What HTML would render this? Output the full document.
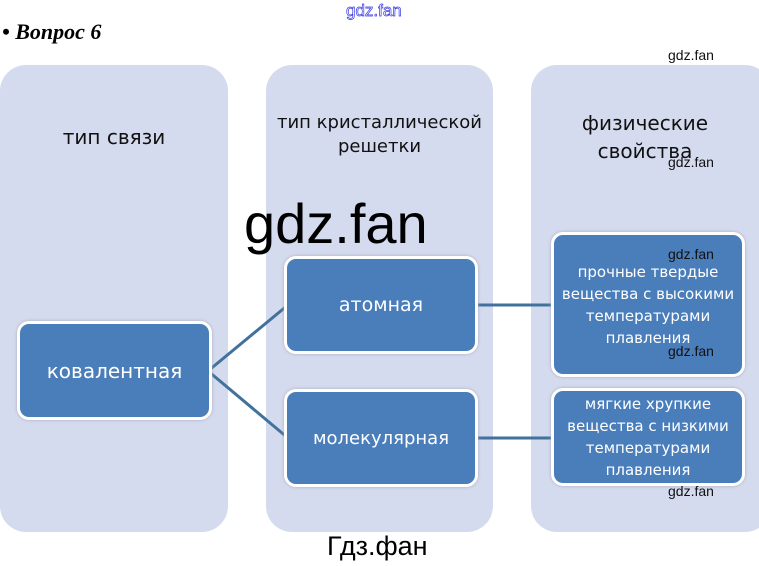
<!DOCTYPE html>
<html><head><meta charset="utf-8"><style>
body{margin:0;width:759px;height:566px;background:#fff;position:relative;overflow:hidden;font-family:"Liberation Sans","DejaVu Sans",sans-serif}
.a{position:absolute}
.col{position:absolute;top:65px;height:467px;background:#d5dbee;border-radius:26px}
.hd{position:absolute;width:100%;text-align:center;color:#111;font-family:"DejaVu Sans",sans-serif}
.box{position:absolute;background:#4a7ebb;border:3px solid #fff;border-radius:12px;box-shadow:0 0 3px #aab;color:#fff;display:flex;align-items:center;justify-content:center;text-align:center;font-family:"DejaVu Sans",sans-serif;box-sizing:border-box}
.wm{position:absolute;font-size:14px;color:#111}
</style></head><body>
<div class="a" style="left:2px;top:19px;font:italic bold 22px 'Liberation Serif',serif">• Вопрос 6</div>
<div class="a" style="left:346px;top:1px;font-size:17px;color:#fff;-webkit-text-stroke:0.7px #3a3ae0">gdz.fan</div>
<div class="col" style="left:0;width:228px"><div class="hd" style="top:60px;font-size:20px">тип связи</div></div>
<div class="col" style="left:266px;width:227px"><div class="hd" style="top:46px;font-size:18px;line-height:24px">тип кристаллической<br>решетки</div></div>
<div class="col" style="left:531px;width:240px"><div class="hd" style="top:44px;font-size:20px;line-height:28px;width:228px">физические<br>свойства</div></div>
<svg class="a" style="left:0;top:0" width="759" height="566"><g stroke="#41719c" stroke-width="3" fill="none">
<line x1="208" y1="371" x2="288" y2="305"/><line x1="208" y1="371" x2="288" y2="438"/>
<line x1="474" y1="305" x2="555" y2="305"/><line x1="474" y1="438" x2="555" y2="438"/></g></svg>
<div class="box" style="left:17px;top:321px;width:195px;height:99px;font-size:20px">ковалентная</div>
<div class="box" style="left:284px;top:256px;width:194px;height:98px;font-size:19px">атомная</div>
<div class="box" style="left:284px;top:389px;width:194px;height:98px;font-size:18px">молекулярная</div>
<div class="box" style="left:551px;top:232px;width:194px;height:145px;font-size:15px;line-height:22px">прочные твердые<br>вещества с высокими<br>температурами<br>плавления</div>
<div class="box" style="left:551px;top:388px;width:194px;height:98px;font-size:15px;line-height:22px">мягкие хрупкие<br>вещества с низкими<br>температурами<br>плавления</div>
<div class="wm" style="left:668px;top:47px">gdz.fan</div>
<div class="wm" style="left:668px;top:154px">gdz.fan</div>
<div class="wm" style="left:668px;top:246px">gdz.fan</div>
<div class="wm" style="left:668px;top:343px">gdz.fan</div>
<div class="wm" style="left:668px;top:483px">gdz.fan</div>
<div class="a" style="left:244px;top:191px;font-size:56px;color:#000">gdz.fan</div>
<div class="a" style="left:327px;top:531px;font-size:27px;color:#000">Гдз.фан</div>
</body></html>
